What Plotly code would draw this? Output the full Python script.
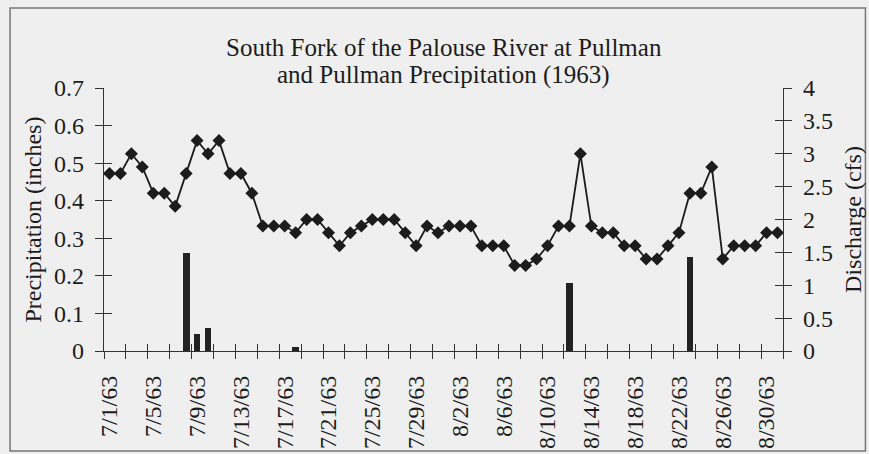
import plotly.graph_objects as go

# ---- data ----
dates = (
    [f"7/{d}/63" for d in range(1, 32)] + [f"8/{d}/63" for d in range(1, 32)]
)
discharge_cfs = [
    2.7, 2.7, 3.0, 2.8, 2.4, 2.4, 2.2, 2.7, 3.2, 3.0, 3.2, 2.7, 2.7, 2.4, 1.9, 1.9,
    1.9, 1.8, 2.0, 2.0, 1.8, 1.6, 1.8, 1.9, 2.0, 2.0, 2.0, 1.8, 1.6, 1.9, 1.8,
    1.9, 1.9, 1.9, 1.6, 1.6, 1.6, 1.3, 1.3, 1.4, 1.6, 1.9, 1.9, 3.0, 1.9, 1.8,
    1.8, 1.6, 1.6, 1.4, 1.4, 1.6, 1.8, 2.4, 2.4, 2.8, 1.4, 1.6, 1.6, 1.6, 1.8, 1.8,
]
precip_in = [0.0] * 62
precip_in[7] = 0.26    # 7/8
precip_in[8] = 0.045   # 7/9
precip_in[9] = 0.06    # 7/10
precip_in[17] = 0.01   # 7/18
precip_in[42] = 0.18   # 8/12
precip_in[53] = 0.25   # 8/23

tick_labels = ["7/1/63", "7/5/63", "7/9/63", "7/13/63", "7/17/63", "7/21/63",
               "7/25/63", "7/29/63", "8/2/63", "8/6/63", "8/10/63", "8/14/63",
               "8/18/63", "8/22/63", "8/26/63", "8/30/63"]

left_ticks = [0, 0.1, 0.2, 0.3, 0.4, 0.5, 0.6, 0.7]
right_ticks = [0, 0.5, 1, 1.5, 2, 2.5, 3, 3.5, 4]

# ---- derived positions (category index) ----
xi = list(range(len(dates)))
label_pos = [dates.index(t) for t in tick_labels]
boundaries = [i - 0.5 for i in range(0, len(dates) + 1, 2)]

FONT = "Liberation Serif, Times New Roman, serif"
INK = "#1c1c1c"
AX = "#333333"
BG = "#efefef"

fig = go.Figure()
fig.add_trace(go.Bar(x=xi, y=precip_in, width=0.62, marker=dict(color="#222222", line=dict(width=0)),
                     xaxis="x", yaxis="y", showlegend=False, hoverinfo="skip"))
fig.add_trace(go.Scatter(x=xi, y=discharge_cfs, mode="lines+markers",
                         line=dict(color=INK, width=1.8),
                         marker=dict(symbol="diamond", size=10, color=INK),
                         xaxis="x", yaxis="y2", showlegend=False))
# helper (invisible) traces so overlay tick axes are drawn
fig.add_trace(go.Scatter(x=[0], y=[0], mode="markers", marker=dict(opacity=0),
                         xaxis="x2", yaxis="y3", showlegend=False, hoverinfo="skip"))
fig.add_trace(go.Scatter(x=[0], y=[0], mode="markers", marker=dict(opacity=0),
                         xaxis="x2", yaxis="y4", showlegend=False, hoverinfo="skip"))

xr = [-0.5, len(dates) - 0.5]
common = dict(showgrid=False, zeroline=False, automargin=False)
fig.update_layout(
    width=869, height=454, autosize=False,
    margin=dict(l=104, r=86, t=88, b=103),
    paper_bgcolor=BG, plot_bgcolor=BG,
    font=dict(family=FONT, size=24, color=INK),
    bargap=0,
    xaxis=dict(range=xr, tickmode="array", tickvals=label_pos, ticktext=tick_labels,
               ticks="", tickangle=-90, ticklabelstandoff=14,
               tickfont=dict(size=24), showline=True, linecolor=AX, linewidth=1.3,
               minor=dict(tickmode="array", tickvals=boundaries, ticks="outside",
                          ticklen=7, tickcolor=AX, tickwidth=1.3),
               **common),
    xaxis2=dict(range=xr, overlaying="x", anchor="y3", side="bottom",
                tickmode="array", tickvals=boundaries, ticks="inside", ticklen=7,
                tickcolor=AX, tickwidth=1.3, showticklabels=False, showline=False, **common),
    yaxis=dict(range=[0, 0.7], tickmode="array", tickvals=left_ticks, ticks="outside",
               ticklen=8, tickcolor=AX, tickwidth=1.3, showline=True, linecolor=AX,
               linewidth=1.3, ticklabelstandoff=6, **common),
    yaxis2=dict(range=[0, 4], tickmode="array", tickvals=right_ticks, overlaying="y",
                side="right", anchor="x", ticks="outside", ticklen=8, tickcolor=AX,
                tickwidth=1.3, showline=True, linecolor=AX, linewidth=1.3,
                ticklabelstandoff=6, **common),
    yaxis3=dict(range=[0, 0.7], tickmode="array", tickvals=left_ticks, overlaying="y",
                side="left", anchor="x2", ticks="inside", ticklen=8, tickcolor=AX,
                tickwidth=1.3, showticklabels=False, showline=False, **common),
    yaxis4=dict(range=[0, 4], tickmode="array", tickvals=right_ticks, overlaying="y",
                side="right", anchor="x2", ticks="inside", ticklen=8, tickcolor=AX,
                tickwidth=1.3, showticklabels=False, showline=False, **common),
)

# title (two lines) and axis titles
fig.add_annotation(text="South Fork of the Palouse River at Pullman", xref="paper", yref="paper",
                   x=0.5, y=(351 - 47) / 263, yanchor="middle", xanchor="center",
                   showarrow=False, font=dict(size=25))
fig.add_annotation(text="and Pullman Precipitation (1963)", xref="paper", yref="paper",
                   x=0.5, y=(351 - 75) / 263, yanchor="middle", xanchor="center",
                   showarrow=False, font=dict(size=25))
fig.add_annotation(text="Precipitation (inches)", xref="paper", yref="paper",
                   x=(32 - 104) / 679.5, y=0.5, textangle=-90, xanchor="center",
                   yanchor="middle", showarrow=False, font=dict(size=24))
fig.add_annotation(text="Discharge (cfs)", xref="paper", yref="paper",
                   x=(853 - 104) / 679.5, y=0.5, textangle=-90, xanchor="center",
                   yanchor="middle", showarrow=False, font=dict(size=24))

# chart-area border
fig.add_shape(type="rect", xref="paper", yref="paper",
              x0=(10 - 104) / 679.5, x1=(866 - 104) / 679.5,
              y0=(351 - 451) / 263, y1=(351 - 8) / 263,
              line=dict(color="#777777", width=1.5), fillcolor="rgba(0,0,0,0)", layer="below")

fig.write_html("out.html", config={"displayModeBar": False},
               post_script="document.body.style.margin='0';document.body.style.padding='0';"
                           "document.documentElement.style.overflow='hidden';")
